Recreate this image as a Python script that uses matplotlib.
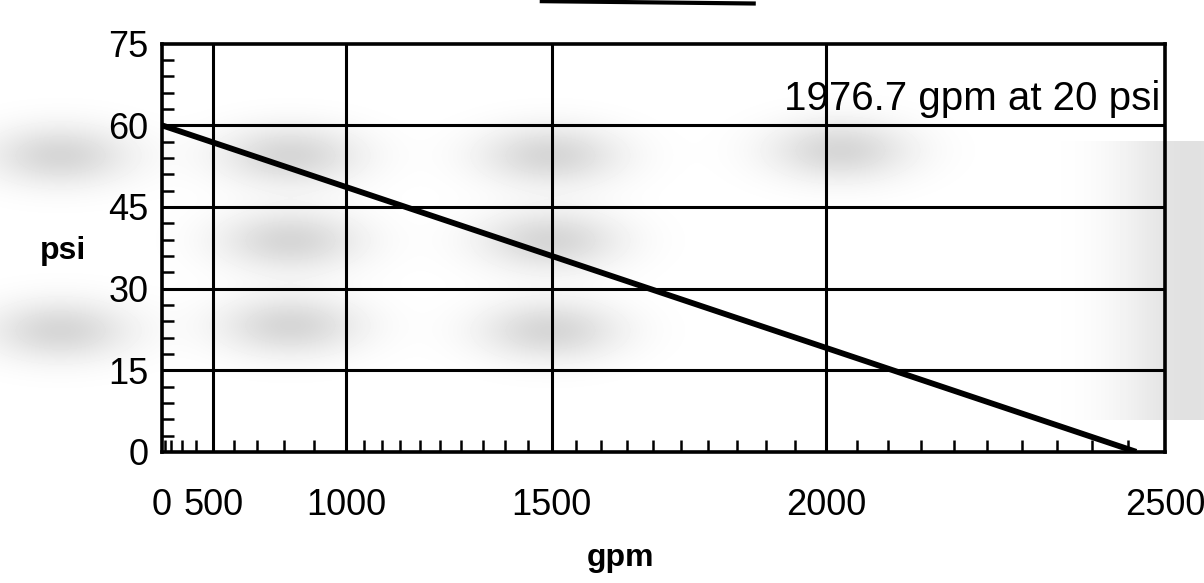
import numpy as np
import matplotlib.pyplot as plt
from matplotlib.ticker import FixedLocator

# hydrant flow test, N^1.85 paper
flow = [0, 1976.7, 2461]
pressure = [60, 20, 0]

x_major = [0, 500, 1000, 1500, 2000, 2500]
x_minor = [100, 200, 300, 400, 600, 700, 800, 900] + list(range(1050, 2500, 50))
y_major = [0, 15, 30, 45, 60, 75]
y_minor = [v for v in range(0, 76, 3) if v % 15 != 0]

plt.rcParams['font.family'] = ['Liberation Sans', 'DejaVu Sans']

def fwd(x):
    return np.power(np.clip(x, 0, None), 1.85)

def inv(x):
    return np.power(np.clip(x, 0, None), 1 / 1.85)

W, H = 1204, 583
fig = plt.figure(figsize=(W / 100, H / 100), dpi=100)

# grey smudges from the scan
yy, xx = np.mgrid[0:H, 0:W]
bg = np.ones((H, W))
smudges = [(60, 155), (60, 330), (290, 155), (290, 240), (290, 325),
           (550, 155), (550, 240), (550, 330), (840, 150)]
for cx, cy in smudges:
    bg -= 0.16 * np.exp(-((xx - cx) / 70) ** 2 - ((yy - cy) / 30) ** 2)
bg -= 0.12 * np.exp(-((xx - 1190) / 70) ** 2) * ((yy > 140) & (yy < 420))
fig.figimage(np.clip(bg, 0, 1), xo=0, yo=0, origin='upper', cmap='gray',
             vmin=0, vmax=1, zorder=0)

ax = fig.add_axes([0.1346, 0.225, 0.833, 0.70])
ax.set_zorder(2)
ax.patch.set_alpha(0)
ax.set_xscale('function', functions=(fwd, inv))
ax.set_xlim(0, 2500)
ax.set_ylim(0, 75)

ax.plot(flow, pressure, color='black', lw=4.2, solid_capstyle='butt')

for v in x_major[1:-1]:
    ax.axvline(v, color='black', lw=2.2)
for v in y_major[1:-1]:
    ax.axhline(v, color='black', lw=2.2)

ax.xaxis.set_major_locator(FixedLocator(x_major))
ax.xaxis.set_minor_locator(FixedLocator(x_minor))
ax.yaxis.set_major_locator(FixedLocator(y_major))
ax.yaxis.set_minor_locator(FixedLocator(y_minor))
ax.set_xticklabels([str(v) for v in x_major])
ax.set_yticklabels([str(v) for v in y_major])

ax.tick_params(which='major', length=0, labelsize=26, pad=10)
ax.tick_params(axis='x', which='major', pad=26)
ax.tick_params(which='minor', direction='in', length=8.5, width=1.8)
for s in ax.spines.values():
    s.set_linewidth(2.6)

ax.text(0.995, 0.865, '1976.7 gpm at 20 psi', transform=ax.transAxes,
        ha='right', va='center', fontsize=29)

fig.text(0.052, 0.57, 'psi', fontsize=23, fontweight='bold', ha='center', va='center',
         zorder=3)
fig.text(0.515, 0.043, 'gpm', fontsize=23, fontweight='bold', ha='center', va='center',
         zorder=3)

# heading underline cut off at top of scan
fig.add_artist(plt.Line2D([0.45, 0.626], [0.998, 0.994], color='black', lw=3, zorder=3))

fig.savefig('out.png', dpi=100)
